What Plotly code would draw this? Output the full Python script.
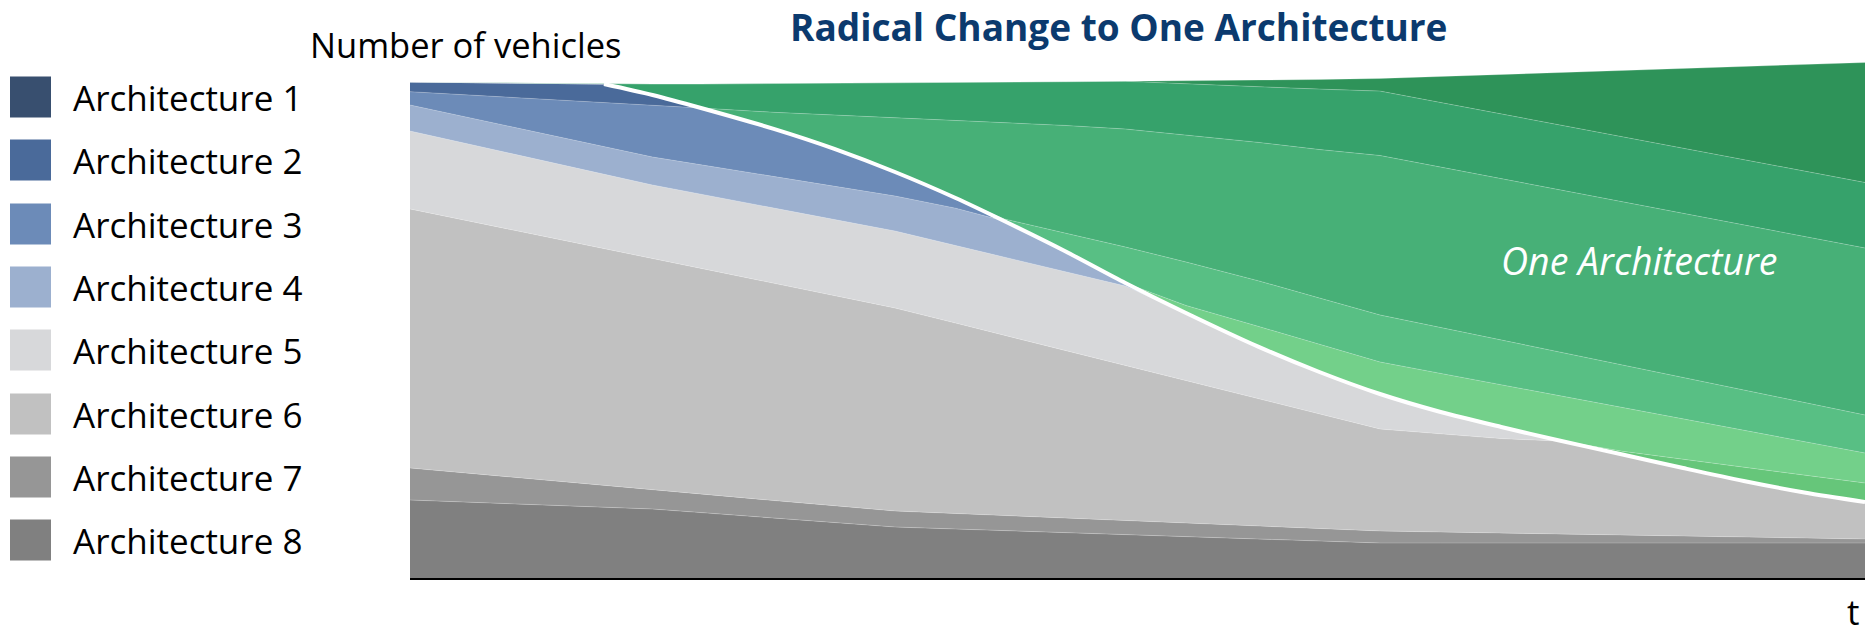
import numpy as np
import plotly.graph_objects as go

# ---------------- data (1 unit = 1 px of chart height) ----------------
t = [0, 1.6, 2, 2.4, 3, 3.5, 4, 4.5, 4.9, 5.4, 5.9, 6.4, 7, 7.5, 8, 8.5, 9, 9.46, 10, 10.5, 11, 11.5, 12]

arch8 = [78, 70.8, 69, 65.4, 60, 55.5, 51, 49, 47.4, 45.4, 43.4, 41.4, 39, 37, 35, 35, 35, 35, 35, 35, 35, 35, 35]
arch7 = [32, 21.6, 19, 18.4, 17.5, 16.8, 16, 15.5, 15.1, 14.6, 14.1, 13.6, 13, 12.5, 12, 11, 10, 9.1, 8, 7, 6, 5, 4]
arch6 = [259, 237, 231.5, 225.8, 217.3, 210.1, 203, 190.4, 180.3, 167.6, 155, 142.4, 127.3, 114.6, 102, 98.2, 94.4, 92.9, 80.5, 68, 56, 45.5, 37]
arch5 = [78, 74.4, 73.5, 74.2, 75.3, 76.1, 77, 77.6, 78.2, 78.9, 79.5, 67.6, 51.8, 41.9, 35, 21.8, 11.6, 1, 0, 0, 0, 0, 0]
arch4 = [26, 27.6, 28, 29.4, 31.5, 33.3, 35, 37.3, 36, 20.5, 3, 0, 0, 0, 0, 0, 0, 0, 0, 0, 0, 0, 0]
arch3 = [13.3, 44, 51.7, 56.8, 47.5, 37.3, 24, 10.2, 0, 0, 0, 0, 0, 0, 0, 0, 0, 0, 0, 0, 0, 0, 0]
arch2 = [9.7, 18.6, 10.3, 0, 0, 0, 0, 0, 0, 0, 0, 0, 0, 0, 0, 0, 0, 0, 0, 0, 0, 0, 0]
arch1 = [0, 0, 0, 0, 0, 0, 0, 0, 0, 0, 0, 0, 0, 0, 0, 0, 0, 0, 0, 0, 0, 0, 0]

# "One Architecture" shades, bottom to top
one_a = [0, 0, 0, 0, 0, 0, 0, 0, 0, 0, 0, 0, 0, 0, 0, 0, 0, 0, 3.2, 8.8, 13.9, 17.4, 19]
one_b = [0, 0, 0, 0, 0, 0, 0, 0, 0, 0, 0, 7.5, 20.4, 27.7, 32, 38.6, 42.3, 44.8, 43.8, 40.3, 36.8, 33.4, 30]
one_c = [0, 0, 0, 0, 0, 0, 0, 0, 2.1, 18, 36, 43.5, 45.6, 46.3, 47, 45.9, 44.7, 43.7, 42.5, 41.4, 40.3, 39.2, 38]
one_d = [0, 0, 0, 0, 16.6, 33.9, 54.2, 77.5, 96.3, 107.6, 118, 127, 138.5, 148.5, 159.5, 160.4, 161.4, 162.2, 163.2, 164.1, 165.1, 166, 167]
one_e = [0, 0, 11, 24, 28.9, 32.1, 35.3, 38.3, 40.6, 43.7, 47.7, 51, 55.7, 60.4, 64.4, 64.6, 64.6, 64.8, 65, 65.2, 65.2, 65.4, 65.5]
one_f = [0, 0, 0, 0, 0, 0, 0, 0, 0, 0, 0, 3, 6.6, 9.6, 12.6, 26, 39.5, 51.8, 66.3, 79.7, 93.2, 106.6, 120]

legend_labels = ["Architecture 1", "Architecture 2", "Architecture 3", "Architecture 4",
                 "Architecture 5", "Architecture 6", "Architecture 7", "Architecture 8"]
arch_colors = ["#384F6F", "#4A6A9A", "#6C8BB8", "#9CB0CF", "#D7D8DA", "#C1C1C1", "#969696", "#808080"]
one_colors = ["#66C67A", "#73D08A", "#58BF84", "#47B077", "#36A26B", "#2E9359"]

title_text = "Radical Change to One Architecture"
y_title = "Number of vehicles"
x_title = "t"
one_label = "One Architecture"

# ---------------- figure ----------------
W, H = 1872, 634
FONT = "Open Sans"

fig = go.Figure()

old_series = [arch8, arch7, arch6, arch5, arch4, arch3, arch2, arch1]
old_cols = list(reversed(arch_colors))
old_names = list(reversed(legend_labels))
for name, vals, col in zip(old_names, old_series, old_cols):
    fig.add_trace(go.Scatter(x=t, y=vals, name=name, stackgroup="s", mode="lines",
                             line=dict(width=0.6, color="rgba(255,255,255,0.35)"),
                             fillcolor=col, showlegend=False, hoverinfo="skip"))

for i, (vals, col) in enumerate(zip([one_a, one_b, one_c, one_d, one_e, one_f], one_colors)):
    fig.add_trace(go.Scatter(x=t, y=vals, name=f"One Architecture {i+1}", stackgroup="s", mode="lines",
                             line=dict(width=0.6, color="rgba(255,255,255,0.35)"),
                             fillcolor=col, showlegend=False, hoverinfo="skip"))

# white boundary between old architectures and One Architecture
old_total = np.sum(np.array(old_series, dtype=float), axis=0)
fig.add_trace(go.Scatter(x=t[1:], y=old_total[1:], mode="lines",
                         line=dict(color="white", width=4, shape="spline", smoothing=0.8),
                         showlegend=False, hoverinfo="skip"))

# legend swatches on a helper axis measured in pixels
legend_y = [97, 160, 224, 287, 350, 414, 477, 540]
fig.add_trace(go.Scatter(x=[30.5] * len(legend_labels), y=legend_y, mode="markers",
                         marker=dict(symbol="square", size=41, color=arch_colors, line=dict(width=0)),
                         xaxis="x2", yaxis="y2", showlegend=False, hoverinfo="skip"))

annotations = []
for lab, yy in zip(legend_labels, legend_y):
    annotations.append(dict(x=71, y=yy, xref="x2", yref="y2", text=lab, showarrow=False,
                            xanchor="left", yanchor="middle",
                            font=dict(family=FONT, size=35, color="#000000")))

def px(xp, yp):
    return xp / W, 1 - yp / H

x0, y0 = px(1118, 27)
annotations.append(dict(x=x0, y=y0, xref="paper", yref="paper", text=f"<b>{title_text}</b>",
                        showarrow=False, xanchor="center", yanchor="middle",
                        font=dict(family=FONT, size=37, color="#0B3A6E")))
x0, y0 = px(308, 44)
annotations.append(dict(x=x0, y=y0, xref="paper", yref="paper", text=y_title,
                        showarrow=False, xanchor="left", yanchor="middle",
                        font=dict(family=FONT, size=34.5, color="#000000")))
x0, y0 = px(1853, 611)
annotations.append(dict(x=x0, y=y0, xref="paper", yref="paper", text=x_title,
                        showarrow=False, xanchor="center", yanchor="middle",
                        font=dict(family=FONT, size=35, color="#000000")))
x0, y0 = px(1639, 260)
annotations.append(dict(x=x0, y=y0, xref="paper", yref="paper", text=f"<i>{one_label}</i>",
                        showarrow=False, xanchor="center", yanchor="middle",
                        font=dict(family=FONT, size=37.5, color="#FFFFFF")))

fig.update_layout(
    width=W, height=H,
    margin=dict(l=0, r=0, t=0, b=0, pad=0),
    paper_bgcolor="white", plot_bgcolor="white",
    showlegend=False,
    annotations=annotations,
    xaxis=dict(domain=[410 / W, 1865 / W], range=[0, 12], showline=True, linecolor="black",
               linewidth=2, showgrid=False, zeroline=False, showticklabels=False, ticks="",
               fixedrange=True),
    yaxis=dict(domain=[(H - 578) / H, (H - 60) / H], range=[0, 518], showline=False,
               showgrid=False, zeroline=False, showticklabels=False, ticks="", fixedrange=True),
    xaxis2=dict(domain=[0, 0.2], range=[0, 0.2 * W], visible=False, anchor="y2", fixedrange=True),
    yaxis2=dict(domain=[0, 1], range=[H, 0], visible=False, anchor="x2", fixedrange=True),
)

fig.write_html("out.html", config={"displayModeBar": False},
               post_script="document.body.style.margin='0';document.body.style.overflow='hidden';")
